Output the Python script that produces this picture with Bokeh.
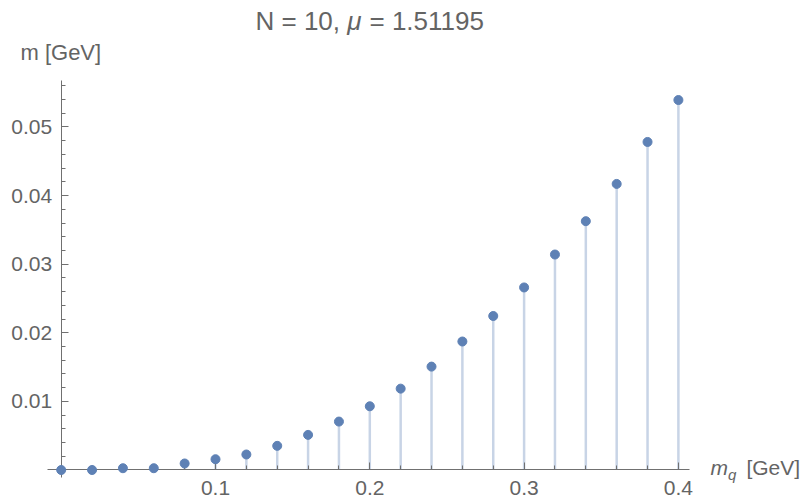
from bokeh.plotting import figure
from bokeh.models import Range1d, FixedTicker, Label
from bokeh.embed import file_html
from bokeh.resources import INLINE

# quark mass m_q [GeV]
mq = [0.00, 0.02, 0.04, 0.06, 0.08, 0.10, 0.12, 0.14, 0.16, 0.18, 0.20,
      0.22, 0.24, 0.26, 0.28, 0.30, 0.32, 0.34, 0.36, 0.38, 0.40]
# m [GeV]
mass = [0.0, 0.0, 0.00026, 0.00026, 0.00095, 0.00157, 0.00226, 0.00352,
        0.00512, 0.00706, 0.00929, 0.01186, 0.01507, 0.01873, 0.02245,
        0.02661, 0.03141, 0.03627, 0.04170, 0.04782, 0.05393]
stem_base = [0.0] * len(mq)

x_major_ticks = [0.1, 0.2, 0.3, 0.4]
x_minor_ticks = [0.02, 0.04, 0.06, 0.08, 0.12, 0.14, 0.16, 0.18, 0.22, 0.24,
                 0.26, 0.28, 0.32, 0.34, 0.36, 0.38]
y_major_ticks = [0.01, 0.02, 0.03, 0.04, 0.05]
y_minor_ticks = [0.002, 0.004, 0.006, 0.008, 0.012, 0.014, 0.016, 0.018,
                 0.022, 0.024, 0.026, 0.028, 0.032, 0.034, 0.036, 0.038,
                 0.042, 0.044, 0.046, 0.048, 0.052, 0.054, 0.056]

FONT = "Liberation Sans"
TXT = "#646464"
AX = "#707070"

p = figure(width=806, height=501,
           x_range=Range1d(-0.03934, 0.48302), y_range=Range1d(-0.004592, 0.06844),
           output_backend="svg", toolbar_location=None,
           min_border_left=0, min_border_right=0,
           min_border_top=0, min_border_bottom=0)
p.outline_line_color = None
p.xgrid.visible = False
p.ygrid.visible = False
p.background_fill_color = "white"
p.border_fill_color = "white"

p.xaxis.fixed_location = 0
p.yaxis.fixed_location = 0
p.xaxis.bounds = (-0.0087, 0.4071)
p.yaxis.bounds = (-0.00105, 0.05678)

for ax in (p.xaxis[0], p.yaxis[0]):
    ax.axis_line_color = AX
    ax.axis_line_width = 1
    ax.major_tick_line_color = AX
    ax.minor_tick_line_color = AX
    ax.major_tick_out = 0
    ax.major_tick_in = 7
    ax.minor_tick_out = 0
    ax.minor_tick_in = 4
    ax.major_label_text_font = FONT
    ax.major_label_text_font_size = "21px"
    ax.major_label_text_color = TXT

p.xaxis.ticker = FixedTicker(ticks=x_major_ticks, minor_ticks=x_minor_ticks)
p.yaxis.ticker = FixedTicker(ticks=y_major_ticks, minor_ticks=y_minor_ticks)
p.xaxis.major_label_standoff = 11
p.yaxis.major_label_standoff = 9

p.segment(x0=mq, y0=stem_base, x1=mq, y1=mass, line_color="#c8d4e6", line_width=2.5)
pts = p.scatter(mq, mass, size=9, fill_color="#5e81b5", line_color="#5e81b5")
pts.level = "overlay"

# title
p.add_layout(Label(x=0.12592, y=0.06552, text="N = 10,", text_align="left",
                   text_baseline="middle", text_font=FONT, text_font_size="26px",
                   text_color=TXT))
p.add_layout(Label(x=0.18542, y=0.06552, text="\u03bc", text_align="left",
                   text_baseline="middle", text_font=FONT, text_font_size="26px",
                   text_font_style="italic", text_color=TXT))
p.add_layout(Label(x=0.19981, y=0.06552, text="= 1.51195", text_align="left",
                   text_baseline="middle", text_font=FONT, text_font_size="26px",
                   text_color=TXT))

# y axis label
p.add_layout(Label(x=-0.0264, y=0.0609, text="m [GeV]", text_align="left",
                   text_baseline="middle", text_font=FONT, text_font_size="22px",
                   text_color=TXT))

# x axis label
p.add_layout(Label(x=0.4208, y=0.0004, text="m", text_align="left",
                   text_baseline="middle", text_font=FONT, text_font_size="21px",
                   text_font_style="italic", text_color=TXT))
p.add_layout(Label(x=0.4322, y=-0.0006, text="q", text_align="left",
                   text_baseline="middle", text_font=FONT, text_font_size="15px",
                   text_font_style="italic", text_color=TXT))
p.add_layout(Label(x=0.4441, y=0.0004, text="[GeV]", text_align="left",
                   text_baseline="middle", text_font=FONT, text_font_size="21px",
                   text_color=TXT))

open("out.html", "w").write(file_html(p, INLINE))
